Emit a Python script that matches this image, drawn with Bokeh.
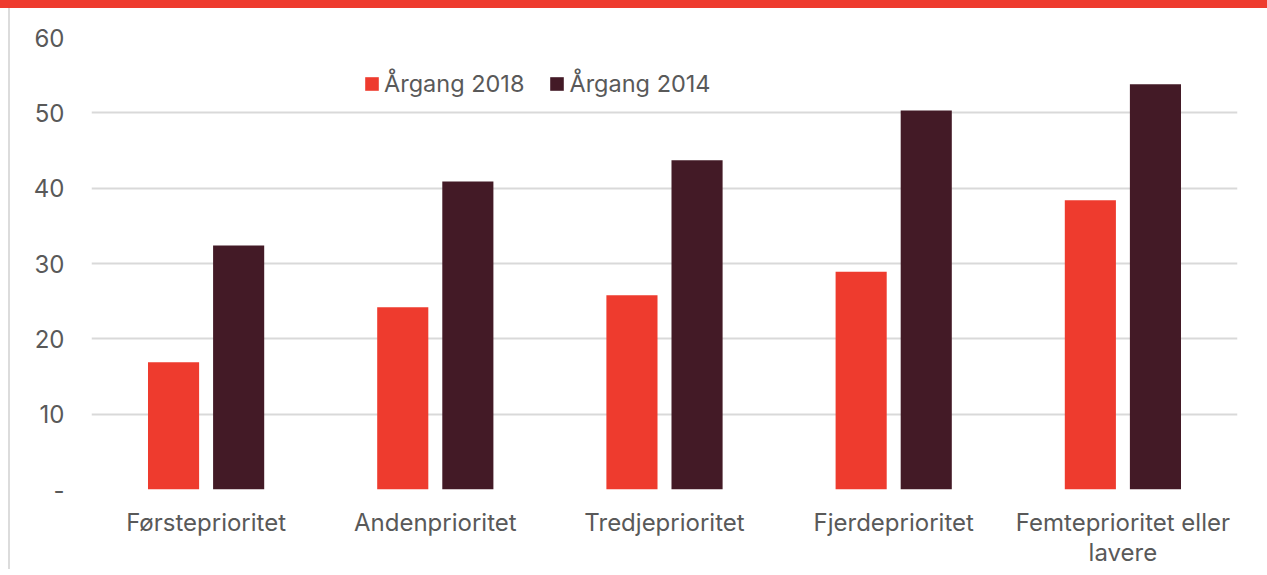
from bokeh.plotting import figure
from bokeh.models import ColumnDataSource, FactorRange, FixedTicker, Legend, LegendItem
from bokeh.transform import dodge
from bokeh.embed import file_html
from bokeh.resources import INLINE

categories = ["Førsteprioritet", "Andenprioritet", "Tredjeprioritet", "Fjerdeprioritet", "Femteprioritet eller\nlavere"]
series_names = ["Årgang 2018", "Årgang 2014"]
values_2018 = [16.9, 24.2, 25.8, 28.9, 38.4]
values_2014 = [32.4, 40.9, 43.7, 50.3, 53.8]
y_ticks = [0, 10, 20, 30, 40, 50, 60]
y_tick_labels = ["-", "10", "20", "30", "40", "50", "60"]

RED = "#EE3B2E"
DARK = "#431A26"
TEXT = "#595959"
GRID = "#d9d9d9"
FONT = "Inter"

source = ColumnDataSource(dict(cat=categories, v2018=values_2018, v2014=values_2014))

p = figure(
    x_range=FactorRange(*categories, range_padding=0),
    y_range=(0, 60),
    frame_width=1146, frame_height=452,
    output_backend="svg", toolbar_location=None,
    min_border_left=91, min_border_right=30, min_border_top=29, min_border_bottom=70,
)
p.outline_line_color = None
p.background_fill_color = "white"
p.border_fill_alpha = 0
p.styles = {
    "border-top": "8px solid " + RED,
    "background": "linear-gradient(to right, white 8px, #dcdcdc 8px, #dcdcdc 10px, white 10px)",
}

r1 = p.vbar(x=dodge("cat", -0.142, range=p.x_range), top="v2018", width=0.223,
            source=source, fill_color=RED, line_color=None)
r2 = p.vbar(x=dodge("cat", 0.142, range=p.x_range), top="v2014", width=0.223,
            source=source, fill_color=DARK, line_color=None)

# axes
p.yaxis.ticker = FixedTicker(ticks=y_ticks)
p.yaxis.major_label_overrides = {t: l for t, l in zip(y_ticks, y_tick_labels)}
for ax in (p.xaxis, p.yaxis):
    ax.axis_line_color = None
    ax.major_tick_line_color = None
    ax.minor_tick_line_color = None
    ax.major_label_text_font = FONT
    ax.major_label_text_color = TEXT
p.yaxis.major_label_text_font_size = "24px"
p.yaxis.major_label_standoff = 21
p.xaxis.major_label_text_font_size = "24px"
p.xaxis.major_label_standoff = 12
p.xaxis.major_label_text_line_height = 1.05

p.xgrid.grid_line_color = None
p.ygrid.grid_line_color = GRID
p.ygrid.grid_line_width = 2

legend = Legend(
    items=[LegendItem(label=series_names[0], renderers=[r1]),
           LegendItem(label=series_names[1], renderers=[r2])],
    orientation="horizontal",
    location=(272, 391),
    padding=0, margin=0, spacing=24,
    glyph_width=17, glyph_height=17, label_standoff=4,
    label_text_font=FONT, label_text_font_size="23.5px", label_text_color=TEXT,
    background_fill_alpha=0, border_line_color=None,
)
p.add_layout(legend, "center")

open("out.html", "w").write(file_html(p, INLINE))
